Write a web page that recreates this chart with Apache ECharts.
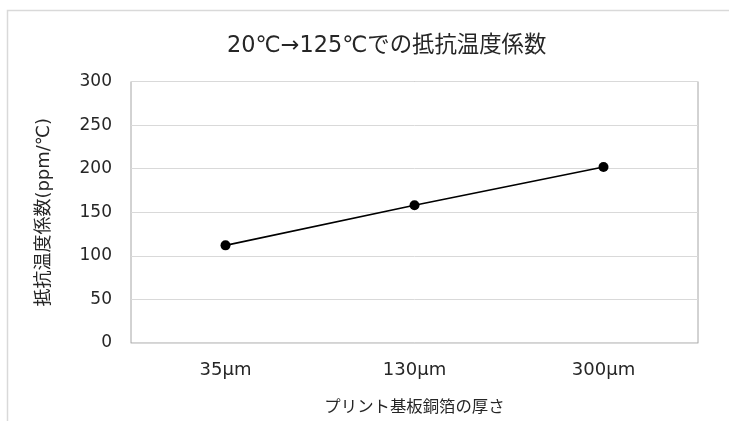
<!DOCTYPE html>
<html><head><meta charset="utf-8">
<script src="https://cdn.jsdelivr.net/npm/echarts@6/dist/echarts.min.js"></script>
<style>html,body{margin:0;padding:0;background:#fff}#c{width:729px;height:421px}</style>
</head><body><div id="c"></div>
<script>
const titleText = '20℃→125℃での抵抗温度係数';
const categories = ['35μm', '130μm', '300μm'];
const values = [112, 158, 202];
const yAxisName = '抵抗温度係数(ppm/℃)';
const xAxisName = 'プリント基板銅箔の厚さ';
const yMin = 0, yMax = 300, yStep = 50;

const FONT = '"DejaVu Sans", "Noto Sans CJK JP", sans-serif';
const CJK = '"Noto Sans CJK JP", "DejaVu Sans", sans-serif';
const chart = echarts.init(document.getElementById('c'), null, {renderer: 'canvas'});
chart.setOption({
  animation: false,
  backgroundColor: '#fff',
  graphic: [{
    type: 'polyline', silent: true,
    shape: {points: [[7.5, 430], [7.5, 10.5], [740, 10.5]]},
    style: {stroke: '#d9d9d9', lineWidth: 1.5, fill: null}
  }],
  title: {
    text: titleText, left: 222, top: 30,
    textStyle: {fontFamily: FONT, fontSize: 22.4, fontWeight: 'normal', color: '#262626'}
  },
  grid: {left: 131, right: 31, top: 81.5, bottom: 78, containLabel: false, outerBoundsMode: 'none',
         show: true, borderColor: '#a6a6a6', borderWidth: 1, backgroundColor: 'transparent'},
  xAxis: {
    type: 'category', data: categories, boundaryGap: true,
    name: xAxisName, nameLocation: 'middle', nameGap: 55,
    nameTextStyle: {fontFamily: CJK, fontSize: 16.4, color: '#262626'},
    axisLine: {lineStyle: {color: '#d9d9d9', width: 1}},
    axisTick: {inside: true, length: 5, lineStyle: {color: '#d9d9d9'}},
    axisLabel: {fontFamily: FONT, fontSize: 18, color: '#262626', margin: 18}
  },
  yAxis: {
    type: 'value', min: yMin, max: yMax, interval: yStep,
    name: yAxisName, nameLocation: 'middle', nameGap: 78, nameRotate: 90,
    nameTextStyle: {fontFamily: FONT, fontSize: 18, color: '#262626'},
    axisLine: {show: false}, axisTick: {show: false},
    axisLabel: {fontFamily: FONT, fontSize: 17, color: '#262626', margin: 19},
    splitLine: {lineStyle: {color: '#d9d9d9', width: 1}}
  },
  series: [{
    type: 'line', data: values,
    symbol: 'circle', symbolSize: 10,
    lineStyle: {color: '#000', width: 1.6},
    itemStyle: {color: '#000'}
  }]
});
</script></body></html>
